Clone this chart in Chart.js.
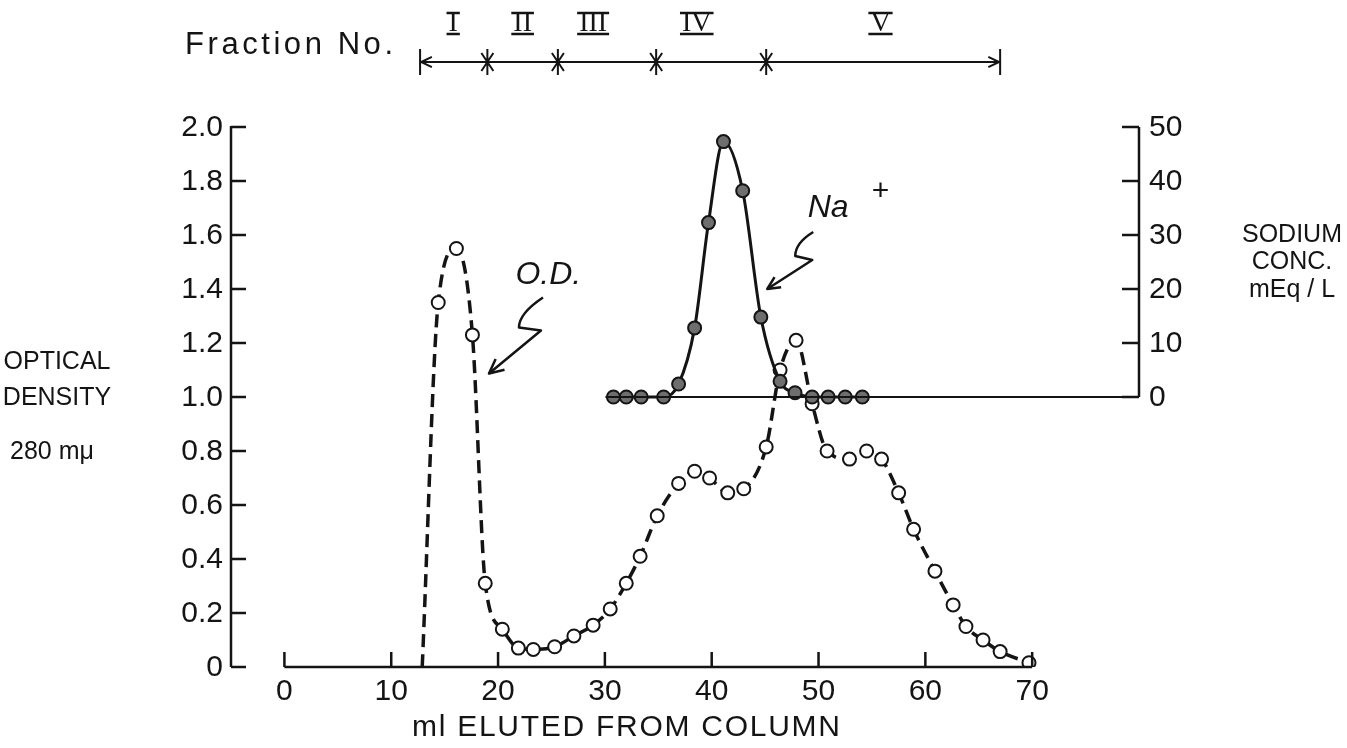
<!DOCTYPE html>
<html>
<head>
<meta charset="utf-8">
<script src="https://cdn.jsdelivr.net/npm/chart.js@4.4.0/dist/chart.umd.min.js"></script>
<style>
  html, body { margin: 0; padding: 0; background: #fff; }
</style>
</head>
<body>
<canvas id="elution" width="1347" height="748"></canvas>
<script>
// optical density at 280 mu (dashed curve)
var odMl = [12.9, 14.4, 16.1, 17.6, 18.8, 20.4, 21.9, 23.3, 25.3, 27.1, 28.9, 30.5,
            32.0, 33.3, 34.9, 36.9, 38.4, 39.8, 41.5, 43.0, 45.1, 46.4, 47.9, 49.4,
            50.8, 52.9, 54.5, 55.9, 57.5, 58.9, 60.9, 62.6, 63.8, 65.4, 67.0, 69.7];
var odValues = [0, 1.35, 1.55, 1.23, 0.31, 0.14, 0.07, 0.065, 0.075, 0.115, 0.155, 0.215,
                0.31, 0.41, 0.56, 0.68, 0.725, 0.70, 0.645, 0.66, 0.815, 1.10, 1.21, 0.975,
                0.80, 0.77, 0.80, 0.77, 0.645, 0.51, 0.355, 0.23, 0.15, 0.10, 0.057, 0.016];

// sodium concentration, mEq/L (solid curve)
var naMl = [30.8, 32.0, 33.4, 35.5, 36.9, 38.4, 39.7, 41.1, 42.9, 44.6, 46.4, 47.8,
            49.4, 50.9, 52.5, 54.1];
var naValues = [0, 0, 0, 0, 2.4, 12.8, 32.3, 47.3, 38.2, 14.8, 2.9, 0.8,
                0, 0, 0, 0];

var xTicks = [0, 10, 20, 30, 40, 50, 60, 70];
var odTicks = [0, 0.2, 0.4, 0.6, 0.8, 1.0, 1.2, 1.4, 1.6, 1.8, 2.0];
var odTickLabels = ['0', '0.2', '0.4', '0.6', '0.8', '1.0', '1.2', '1.4', '1.6', '1.8', '2.0'];
var naTicks = [0, 10, 20, 30, 40, 50];

// fraction boundaries (ml) and their names
var fractionBounds = [12.7, 19.0, 25.6, 34.8, 45.1, 67.0];
var fractionNames = ['I', 'II', 'III', 'IV', 'V'];
var fractionLabelMl = [15.8, 22.3, 28.9, 38.6, 55.8];

function points(xs, ys) {
    var out = [];
    for (var i = 0; i < xs.length; i++) out.push({x: xs[i], y: ys[i]});
    return out;
}

var INK = '#141414';
var SANS = '"Liberation Sans", "DejaVu Sans", sans-serif';
var NARROW = '"Liberation Sans Narrow", "Liberation Sans", sans-serif';

function spacedText(ctx, text, left, cy, width) {
    ctx.letterSpacing = '0px';
    var w = ctx.measureText(text).width;
    var sp = text.length > 1 ? (width - w) / (text.length - 1) : 0;
    ctx.letterSpacing = sp + 'px';
    ctx.textAlign = 'left';
    ctx.textBaseline = 'middle';
    ctx.fillText(text, left, cy);
    ctx.letterSpacing = '0px';
}

function arrowHead(ctx, fx, fy, tx, ty, len) {
    var a = Math.atan2(ty - fy, tx - fx);
    ctx.beginPath();
    ctx.moveTo(tx - len * Math.cos(a - 0.45), ty - len * Math.sin(a - 0.45));
    ctx.lineTo(tx, ty);
    ctx.lineTo(tx - len * Math.cos(a + 0.45), ty - len * Math.sin(a + 0.45));
    ctx.stroke();
}

function asterisk(ctx, cx, cy) {
    ctx.beginPath();
    ctx.moveTo(cx, cy - 13); ctx.lineTo(cx, cy + 13);
    ctx.moveTo(cx - 6, cy - 9); ctx.lineTo(cx + 6, cy + 9);
    ctx.moveTo(cx + 6, cy - 9); ctx.lineTo(cx - 6, cy + 9);
    ctx.stroke();
}

var paperAxes = {
    id: 'paperAxes',
    afterDraw: function (chart) {
        var ctx = chart.ctx;
        var sx = chart.scales.x, sy = chart.scales.y, sn = chart.scales.y1;
        var area = chart.chartArea;
        ctx.save();
        ctx.strokeStyle = INK;
        ctx.fillStyle = INK;
        ctx.lineCap = 'butt';

        // left axis
        ctx.lineWidth = 2.5;
        ctx.beginPath();
        ctx.moveTo(area.left, sy.getPixelForValue(0));
        ctx.lineTo(area.left, sy.getPixelForValue(2.0) - 1);
        odTicks.forEach(function (v) {
            var py = sy.getPixelForValue(v);
            ctx.moveTo(area.left, py);
            ctx.lineTo(area.left + 15, py);
        });
        ctx.stroke();
        ctx.font = '30px ' + SANS;
        ctx.textAlign = 'right';
        ctx.textBaseline = 'middle';
        odTicks.forEach(function (v, i) {
            ctx.fillText(odTickLabels[i], area.left - 8, sy.getPixelForValue(v) + 1);
        });

        // bottom axis, starting at 0 ml
        var by = sy.getPixelForValue(0);
        ctx.beginPath();
        ctx.moveTo(sx.getPixelForValue(0), by);
        ctx.lineTo(sx.getPixelForValue(70), by);
        xTicks.forEach(function (v) {
            var px = sx.getPixelForValue(v);
            ctx.moveTo(px, by);
            ctx.lineTo(px, by - 15);
        });
        ctx.stroke();
        ctx.textAlign = 'center';
        xTicks.forEach(function (v) {
            ctx.fillText(String(v), sx.getPixelForValue(v), by + 25);
        });

        // right sodium axis and its zero line
        var n0 = sn.getPixelForValue(0);
        ctx.beginPath();
        ctx.moveTo(area.right, n0);
        ctx.lineTo(area.right, sn.getPixelForValue(50));
        naTicks.forEach(function (v) {
            var py = sn.getPixelForValue(v);
            ctx.moveTo(area.right - 17, py);
            ctx.lineTo(area.right, py);
        });
        ctx.stroke();
        ctx.lineWidth = 2;
        ctx.beginPath();
        ctx.moveTo(sx.getPixelForValue(naMl[0]) - 8, n0);
        ctx.lineTo(area.right, n0);
        ctx.stroke();
        ctx.textAlign = 'left';
        naTicks.forEach(function (v) {
            ctx.fillText(String(v), area.right + 10, sn.getPixelForValue(v) + 1);
        });

        // axis titles
        ctx.font = '25px ' + SANS;
        ctx.textAlign = 'center';
        ctx.fillText('OPTICAL', 57, sy.getPixelForValue(1.13));
        ctx.fillText('DENSITY', 57, sy.getPixelForValue(1.0) + 1);
        ctx.fillText('280 m\u03bc', 52, sy.getPixelForValue(0.8) + 1);
        ctx.fillText('SODIUM', 1292, sn.getPixelForValue(30));
        ctx.fillText('CONC.', 1292, sn.getPixelForValue(25));
        ctx.fillText('mEq / L', 1292, sn.getPixelForValue(20) + 1);
        ctx.font = '30px ' + NARROW;
        spacedText(ctx, 'ml ELUTED FROM COLUMN', 412, 728, 428);

        // fraction header
        ctx.font = '31px ' + NARROW;
        spacedText(ctx, 'Fraction No.', 185, 45, 208);
        var fy = 62;
        var f0 = sx.getPixelForValue(fractionBounds[0]);
        var f1 = sx.getPixelForValue(fractionBounds[fractionBounds.length - 1]);
        ctx.lineWidth = 2;
        ctx.beginPath();
        ctx.moveTo(f0, fy); ctx.lineTo(f1, fy);
        ctx.moveTo(f0, fy - 13); ctx.lineTo(f0, fy + 13);
        ctx.moveTo(f1, fy - 13); ctx.lineTo(f1, fy + 13);
        ctx.stroke();
        arrowHead(ctx, f0 + 20, fy, f0 + 1, fy, 12);
        arrowHead(ctx, f1 - 20, fy, f1 - 1, fy, 12);
        for (var i = 1; i < fractionBounds.length - 1; i++) {
            asterisk(ctx, sx.getPixelForValue(fractionBounds[i]), fy);
        }
        ctx.font = '28px "Liberation Serif", serif';
        ctx.textAlign = 'center';
        ctx.textBaseline = 'middle';
        fractionNames.forEach(function (name, k) {
            var cx = sx.getPixelForValue(fractionLabelMl[k]);
            var w = ctx.measureText(name).width + 4;
            ctx.fillText(name, cx, 24);
            ctx.lineWidth = 2.5;
            ctx.beginPath();
            ctx.moveTo(cx - w / 2, 13); ctx.lineTo(cx + w / 2, 13);
            ctx.moveTo(cx - w / 2, 34); ctx.lineTo(cx + w / 2, 34);
            ctx.stroke();
        });

        // curve labels with squiggle arrows
        ctx.font = 'italic 32px ' + SANS;
        ctx.textAlign = 'center';
        ctx.fillText('O.D.', sx.getPixelForValue(24.7), sy.getPixelForValue(1.45));
        ctx.fillText('Na', sx.getPixelForValue(50.9), sy.getPixelForValue(1.70));
        ctx.font = '30px ' + SANS;
        ctx.fillText('+', sx.getPixelForValue(55.8), sy.getPixelForValue(1.76));

        ctx.lineWidth = 2.5;
        ctx.lineJoin = 'round';
        var t = {x: sx.getPixelForValue(19.15), y: sy.getPixelForValue(1.087)};
        ctx.beginPath();
        ctx.moveTo(t.x + 54, t.y - 76);
        ctx.quadraticCurveTo(t.x + 30, t.y - 60, t.x + 30, t.y - 46);
        ctx.lineTo(t.x + 52, t.y - 43);
        ctx.lineTo(t.x, t.y);
        ctx.stroke();
        arrowHead(ctx, t.x + 52, t.y - 43, t.x, t.y, 16);

        var u = {x: sx.getPixelForValue(45.2), y: sy.getPixelForValue(1.40)};
        ctx.beginPath();
        ctx.moveTo(u.x + 46, u.y - 57);
        ctx.quadraticCurveTo(u.x + 28, u.y - 46, u.x + 28, u.y - 33);
        ctx.lineTo(u.x + 45, u.y - 29);
        ctx.lineTo(u.x, u.y);
        ctx.stroke();
        arrowHead(ctx, u.x + 45, u.y - 29, u.x, u.y, 14);

        ctx.restore();
    }
};

var ctx = document.getElementById('elution').getContext('2d');
new Chart(ctx, {
    type: 'line',
    data: {
        datasets: [{
            label: 'Na+',
            data: points(naMl, naValues),
            yAxisID: 'y1',
            borderColor: INK,
            borderWidth: 3,
            cubicInterpolationMode: 'monotone',
            pointRadius: 6.5,
            pointBackgroundColor: '#6e6e6e',
            pointBorderColor: INK,
            pointBorderWidth: 2
        }, {
            label: 'O.D.',
            data: points(odMl, odValues),
            yAxisID: 'y',
            borderColor: INK,
            borderWidth: 3.5,
            borderDash: [13, 7],
            cubicInterpolationMode: 'monotone',
            pointRadius: odMl.map(function (v, i) { return i === 0 ? 0 : 6.5; }),
            pointBackgroundColor: '#ffffff',
            pointBorderColor: INK,
            pointBorderWidth: 2
        }]
    },
    options: {
        responsive: false,
        animation: false,
        devicePixelRatio: 1,
        layout: {padding: {left: 231, right: 208, top: 127, bottom: 81}},
        plugins: {legend: {display: false}, tooltip: {enabled: false}},
        scales: {
            x: {type: 'linear', min: -5, max: 80, display: false},
            y: {min: 0, max: 2, display: false},
            y1: {min: -50, max: 50, display: false, position: 'right'}
        }
    },
    plugins: [paperAxes]
});
</script>
</body>
</html>
